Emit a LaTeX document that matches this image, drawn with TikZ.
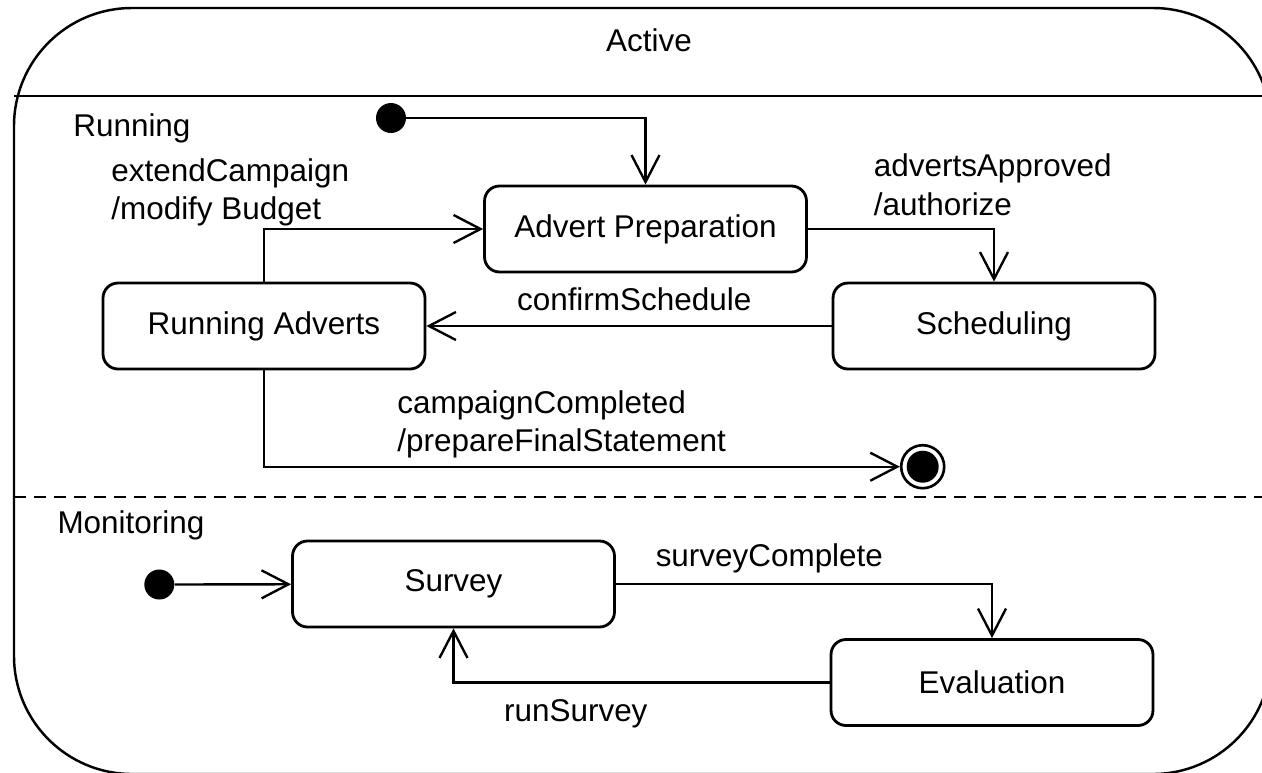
\documentclass[tikz,border=0pt]{standalone}
\usepackage{fontspec}
\setmainfont{Liberation Sans}
\usetikzlibrary{arrows.meta,positioning}

\tikzset{
  stbox/.style={draw, rounded corners=0.3cm, line width=1.6pt, minimum width=6.44cm, minimum height=1.72cm, inner sep=0pt},
  startdot/.style={circle, fill, minimum size=0.6cm, inner sep=0pt},
  enddot/.style={circle, draw, line width=1.5pt, minimum size=0.86cm, inner sep=0pt,
    path picture={\fill (path picture bounding box.center) circle (0.32cm);}},
  lbl/.style={anchor=base west, inner sep=0pt, align=left},
  trans/.style={line width=1.35pt, -{Straight Barb[length=0.54cm, width=0.56cm, line width=1.35pt]}}
}

\begin{document}
\begin{tikzpicture}[x=0.02cm, y=-0.02cm, font=\fontsize{17.9}{22}\selectfont]
    \useasboundingbox (0,0) rectangle (1262,772);
    \clip (0,0) rectangle (1262,772);

    % Composite state Active
    \draw[line width=1.4pt, rounded corners=2.36cm] (14,8) rectangle (1271,774);
    \node[anchor=base, inner sep=0pt] (active) at (649,51.7) {Active};
    \draw[line width=1.4pt] (14,96) -- (1262,96);
    \draw[line width=1.4pt, dash pattern=on 0.24cm off 0.16cm] (14,497) -- (1262,497);

    % Region Running
    \node[lbl] (running) at (73,136.7) {Running};
    \node[startdot] (init1) at (391,118) {};
    \node[stbox] (prep) at (645.5,229) {Advert Preparation};
    \node[stbox] (adverts) at (264,326) {Running Adverts};
    \node[stbox] (sched) at (994,326) {Scheduling};
    \node[enddot] (final) at (922.7,466.7) {};

    \draw[trans] (init1) -| (prep);
    \draw[trans] (adverts) |- (prep);
    \draw[trans] (prep) -| (sched);
    \draw[trans] (sched) -- (adverts);
    \draw[trans] (adverts) |- (final);

    % labels: base is the last line
    \node[lbl] (extend) at (111,219.7) {extendCampaign\\/modify Budget};
    \node[lbl] (approved) at (873.5,215) {advertsApproved\\/authorize};
    \node[lbl] (confirm) at (516.7,310.7) {confirmSchedule};
    \node[lbl] (completed) at (397,451.7) {campaignCompleted\\/prepareFinalStatement};

    % Region Monitoring
    \node[lbl] (monitoring) at (57.2,533.3) {Monitoring};
    \node[startdot] (init2) at (159.3,584.5) {};
    \node[stbox] (survey) at (453.5,584) {Survey};
    \node[stbox] (eval) at (992,682.5) {Evaluation};

    \draw[trans] (init2) -- (survey);
    \draw[trans] (survey) -| (eval);
    \draw[trans] (eval) -| (survey);

    \node[lbl] (complete) at (655.4,566.7) {surveyComplete};
    \node[lbl] (runsurvey) at (503.8,721.7) {runSurvey};
\end{tikzpicture}
\end{document}
